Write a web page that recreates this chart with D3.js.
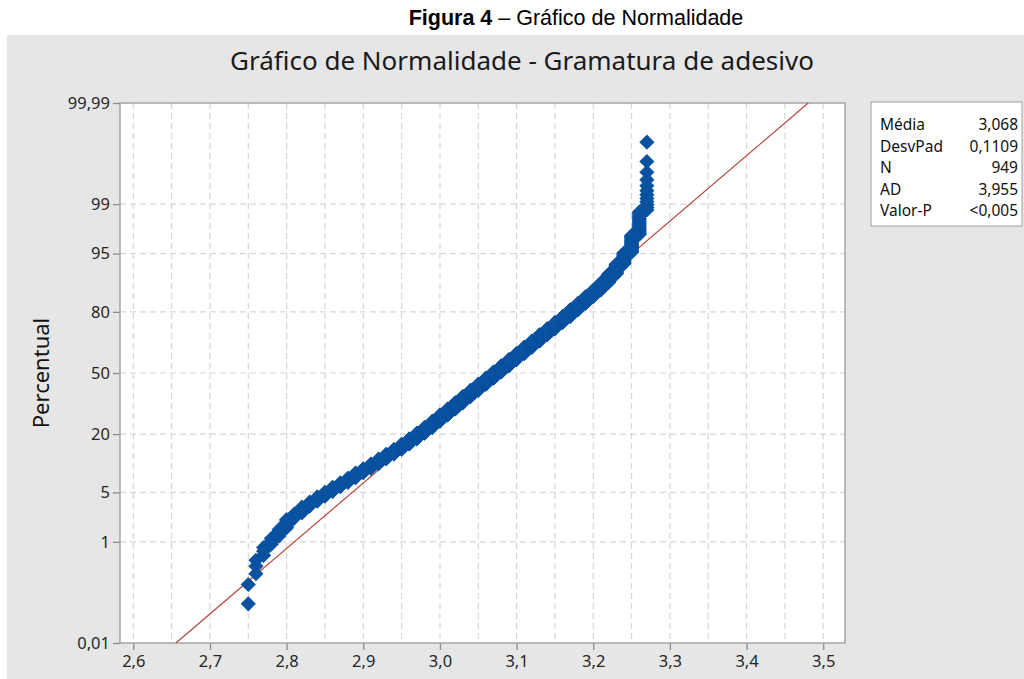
<!DOCTYPE html>
<html>
<head>
<meta charset="utf-8">
<script src="https://cdn.jsdelivr.net/npm/d3@7"></script>
<style>
  body { margin: 0; background: #fff; }
  text { font-family: "Noto Sans", sans-serif; }
</style>
</head>
<body>
<svg id="chart" width="1024" height="679"></svg>
<script>
// gramatura values (0,01 resolution) and how many of the 949 samples sit at each one
const values = [2.75, 2.76, 2.77, 2.78, 2.79, 2.80, 2.81, 2.82, 2.83, 2.84,
  2.85, 2.86, 2.87, 2.88, 2.89, 2.90, 2.91, 2.92, 2.93, 2.94,
  2.95, 2.96, 2.97, 2.98, 2.99, 3.00, 3.01, 3.02, 3.03, 3.04,
  3.05, 3.06, 3.07, 3.08, 3.09, 3.10, 3.11, 3.12, 3.13, 3.14,
  3.15, 3.16, 3.17, 3.18, 3.19, 3.20, 3.21, 3.22, 3.23, 3.24,
  3.25, 3.26, 3.27];
const counts = [2, 3, 3, 3, 4, 6, 4, 6, 5, 6,
  6, 7, 7, 8, 10, 9, 11, 12, 13, 14,
  16, 18, 20, 22, 25, 27, 27, 30, 30, 31,
  31, 32, 32, 32, 32, 31, 31, 30, 29, 27,
  26, 24, 25, 22, 21, 19, 19, 19, 19, 17,
  19, 15, 12];

const yTicks = [0.01, 1, 5, 20, 50, 80, 95, 99, 99.99];
const yTickLabels = ["0,01", "1", "5", "20", "50", "80", "95", "99", "99,99"];
const xTicks = [2.6, 2.7, 2.8, 2.9, 3.0, 3.1, 3.2, 3.3, 3.4, 3.5];
const xGrid = [2.6, 2.65, 2.7, 2.75, 2.8, 2.85, 2.9, 2.95, 3.0, 3.05,
  3.1, 3.15, 3.2, 3.25, 3.3, 3.35, 3.4, 3.45, 3.5];

const statLabels = ["Média", "DesvPad", "N", "AD", "Valor-P"];
const statValues = ["3,068", "0,1109", "949", "3,955", "<0,005"];
const fitMean = 3.068;
const fitSd = 0.1109;

// inverse normal cdf (Acklam) for the probability axis
function qnorm(p) {
  const a = [-3.969683028665376e+01, 2.209460984245205e+02, -2.759285104469687e+02,
    1.383577518672690e+02, -3.066479806614716e+01, 2.506628277459239e+00];
  const b = [-5.447609879822406e+01, 1.615858368580409e+02, -1.556989798598866e+02,
    6.680131188771972e+01, -1.328068155288572e+01];
  const c = [-7.784894002430293e-03, -3.223964580411365e-01, -2.400758277161838e+00,
    -2.549732539343734e+00, 4.374664141464968e+00, 2.938163982698783e+00];
  const d = [7.784695709041462e-03, 3.224671290700398e-01, 2.445134137142996e+00,
    3.754408661907416e+00];
  let q, r;
  if (p < 0.02425) {
    q = Math.sqrt(-2 * Math.log(p));
    return (((((c[0]*q+c[1])*q+c[2])*q+c[3])*q+c[4])*q+c[5]) / ((((d[0]*q+d[1])*q+d[2])*q+d[3])*q+1);
  }
  if (p > 1 - 0.02425) {
    q = Math.sqrt(-2 * Math.log(1 - p));
    return -(((((c[0]*q+c[1])*q+c[2])*q+c[3])*q+c[4])*q+c[5]) / ((((d[0]*q+d[1])*q+d[2])*q+d[3])*q+1);
  }
  q = p - 0.5; r = q * q;
  return (((((a[0]*r+a[1])*r+a[2])*r+a[3])*r+a[4])*r+a[5])*q / (((((b[0]*r+b[1])*r+b[2])*r+b[3])*r+b[4])*r+1);
}

const svg = d3.select("#chart");

// plot frame
const pLeft = 120, pRight = 845, pTop = 103, pBottom = 643;
const zMax = qnorm(0.9999);

const x = d3.scaleLinear().domain([2.6, 3.5]).range([133.3, 823.2]);
const y = d3.scaleLinear().domain([-zMax, zMax]).range([pBottom, pTop]);

// grey panel behind everything
svg.append("rect").attr("x", 7).attr("y", 35).attr("width", 1017).attr("height", 644)
  .attr("fill", "#e6e6e6");

// caption above the panel
const cap = svg.append("text").attr("x", 576).attr("y", 25)
  .attr("text-anchor", "middle")
  .style("font-family", "'Liberation Sans', Arial, sans-serif")
  .style("font-size", "21.5px").attr("fill", "#000");
cap.append("tspan").style("font-weight", "bold").text("Figura 4");
cap.append("tspan").text(" – Gráfico de Normalidade");

svg.append("text").attr("x", 522).attr("y", 70).attr("text-anchor", "middle")
  .style("font-size", "26px").attr("fill", "#1a1a1a")
  .text("Gráfico de Normalidade - Gramatura de adesivo");

svg.append("rect").attr("x", pLeft).attr("y", pTop)
  .attr("width", pRight - pLeft).attr("height", pBottom - pTop)
  .attr("fill", "#fff");

// dashed grid
const grid = svg.append("g").attr("stroke", "#d6d6d6").attr("stroke-dasharray", "6,4")
  .attr("stroke-width", 1.2);
grid.selectAll(".gy").data(yTicks.slice(1, -1)).join("line")
  .attr("x1", pLeft).attr("x2", pRight)
  .attr("y1", d => y(qnorm(d / 100))).attr("y2", d => y(qnorm(d / 100)));
grid.selectAll(".gx").data(xGrid).join("line")
  .attr("y1", pTop).attr("y2", pBottom)
  .attr("x1", d => x(d)).attr("x2", d => x(d));

// axes
const yAxis = svg.append("g").attr("transform", `translate(${pLeft},0)`)
  .call(d3.axisLeft(y).tickValues(yTicks.map(p => qnorm(p / 100)))
    .tickFormat((d, i) => yTickLabels[i]).tickSize(7).tickPadding(3));
const xAxis = svg.append("g").attr("transform", `translate(0,${pBottom})`)
  .call(d3.axisBottom(x).tickValues(xTicks)
    .tickFormat(d => d3.format(".1f")(d).replace(".", ",")).tickSize(7).tickPadding(5));
[yAxis, xAxis].forEach(g => {
  g.select(".domain").remove();
  g.selectAll("line").attr("stroke", "#8c8c8c").attr("stroke-width", 1.3);
  g.selectAll("text").style("font-family", "'Noto Sans', sans-serif")
    .style("font-size", "16.5px").attr("fill", "#262626");
});

svg.append("rect").attr("x", pLeft).attr("y", pTop)
  .attr("width", pRight - pLeft).attr("height", pBottom - pTop)
  .attr("fill", "none").attr("stroke", "#9a9a9a").attr("stroke-width", 1.3);

svg.append("text")
  .attr("transform", `translate(49,${y(0)}) rotate(-90)`)
  .attr("text-anchor", "middle").style("font-size", "22px").attr("fill", "#111")
  .text("Percentual");

// fitted normal line
svg.append("line")
  .attr("x1", x(fitMean - zMax * fitSd)).attr("y1", y(-zMax))
  .attr("x2", x(fitMean + zMax * fitSd)).attr("y2", y(zMax))
  .attr("stroke", "#b8453f").attr("stroke-width", 1.2);

// points at median-rank plotting positions
const N = d3.sum(counts);
const pts = [];
let rank = 0;
values.forEach((v, i) => {
  for (let k = 0; k < counts[i]; k++) {
    rank++;
    pts.push({ v: v, z: qnorm((rank - 0.3) / (N + 0.4)) });
  }
});
svg.append("g").selectAll("path").data(pts).join("path")
  .attr("d", d3.symbol(d3.symbolSquare, 115))
  .attr("transform", d => `translate(${x(d.v)},${y(d.z)}) rotate(45)`)
  .attr("fill", "#0a52a0");

// stats box
svg.append("rect").attr("x", 871).attr("y", 102).attr("width", 151).attr("height", 124)
  .attr("fill", "#fff").attr("stroke", "#a0a0a0");
const rows = svg.append("g").style("font-size", "15.5px").attr("fill", "#111");
rows.selectAll(".lab").data(statLabels).join("text")
  .attr("x", 880).attr("y", (d, i) => 130 + i * 21.5).text(d => d);
rows.selectAll(".val").data(statValues).join("text")
  .attr("x", 1018).attr("y", (d, i) => 130 + i * 21.5)
  .attr("text-anchor", "end").text(d => d);
</script>
</body>
</html>
